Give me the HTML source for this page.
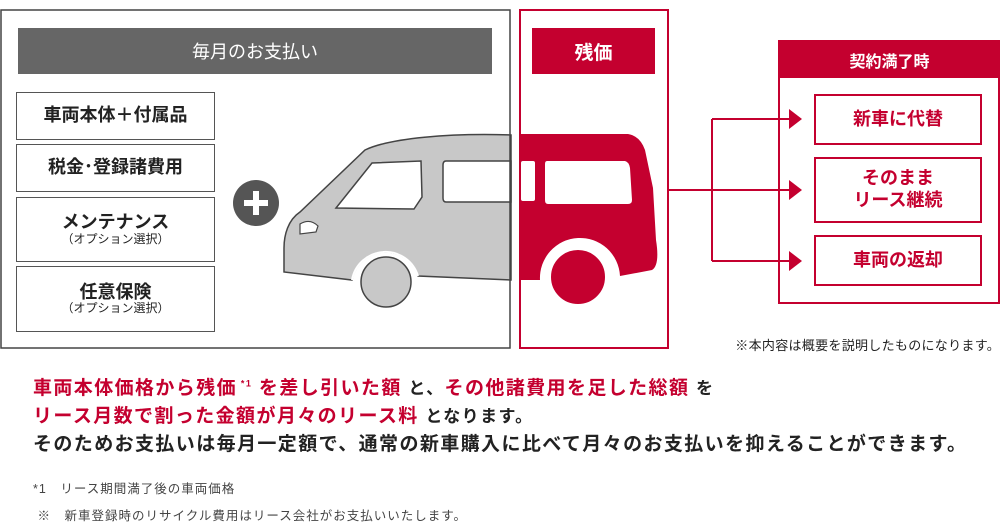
<!DOCTYPE html>
<html><head><meta charset="utf-8"><style>
body{margin:0;width:1000px;height:530px;background:#fff;font-family:"Liberation Sans","Noto Sans CJK JP",sans-serif;position:relative;overflow:hidden}
.a{position:absolute;box-sizing:border-box}
.c{display:flex;align-items:center;justify-content:center;text-align:center;flex-direction:column}
.item{border:1.5px solid #555;font-weight:bold;font-size:18px;color:#222;line-height:1.1;left:16px;width:199px}
.item small{font-size:12px;font-weight:normal}
.ritem{border:2px solid #c4002f;color:#c4002f;font-weight:bold;font-size:18px;left:814px;width:168px;line-height:1.2}
.t{position:absolute;left:33px;font-size:19px;font-weight:bold;color:#222;white-space:nowrap;letter-spacing:1.4px}
.r{color:#c4002f}
.s{font-size:17px}
.f{position:absolute;left:33px;font-size:12.5px;color:#444;white-space:nowrap;letter-spacing:1px}
</style></head><body>
<svg class="a" style="left:0;top:0" width="1000" height="360">
<path d="M511 135 C450 133 390 138 365 150 L300 212 C288 220 284 235 284 248 L284 272 L352 280 A34 34 0 0 1 418 276 L511 280 Z" fill="#c8c8c8" stroke="#444" stroke-width="1.5"/>
<path d="M352 280 A34 34 0 0 1 418 276" fill="none" stroke="#fff" stroke-width="2"/>
<circle cx="386" cy="282" r="25" fill="#c8c8c8" stroke="#444" stroke-width="1.5"/>
<path d="M336 208 L372 163 L421 161 L422 197 L414 209 Z" fill="#fff" stroke="#444" stroke-width="1.5"/>
<path d="M446 161 L511 161 L511 202 L446 202 Q443 202 443 198 L443 165 Q443 161 446 161 Z" fill="#fff" stroke="#444" stroke-width="1.5"/>
<path d="M300 224 Q310 218 318 226 L316 232 L300 234 Z" fill="#fff" stroke="#444" stroke-width="1.2"/>
<rect x="1" y="10" width="509" height="338" fill="none" stroke="#444" stroke-width="1.5"/>
<rect x="18" y="28" width="474" height="46" fill="#666"/>
<circle cx="256" cy="203" r="23" fill="#555"/>
<rect x="244" y="200" width="24" height="6" fill="#fff"/><rect x="253" y="191" width="6" height="24" fill="#fff"/>
<path d="M521 134 L628 134 Q640 136 645 150 L653 188 L656 240 Q660 265 652 270 L620 276 A40 40 0 0 0 540 280 L521 280 Z" fill="#c4002f"/>
<rect x="521" y="161" width="14" height="40" rx="2" fill="#fff"/>
<path d="M547 161 L625 161 Q629 162 630 168 L632 200 Q632 204 628 204 L548 204 Q545 204 545 200 L545 164 Q545 161 547 161 Z" fill="#fff"/>
<circle cx="578" cy="277" r="28" fill="#c4002f" stroke="#fff" stroke-width="2"/>
<rect x="520" y="10" width="148" height="338" fill="none" stroke="#c4002f" stroke-width="2"/>
<rect x="532" y="28" width="123" height="46" fill="#c4002f"/>
<rect x="779" y="41" width="220" height="262" fill="none" stroke="#c4002f" stroke-width="2"/>
<rect x="779" y="41" width="221" height="37" fill="#c4002f"/>
<g stroke="#c4002f" stroke-width="2" fill="none">
<path d="M668 190 L790 190 M712 119 L712 261 M712 119 L790 119 M712 261 L790 261"/>
</g>
<g fill="#c4002f">
<path d="M789 109 L802 119 L789 129 Z"/><path d="M789 180 L802 190 L789 200 Z"/><path d="M789 251 L802 261 L789 271 Z"/>
</g>
</svg>
<div class="a c" style="left:18px;top:28px;width:474px;height:46px;color:#fff;font-size:18px">毎月のお支払い</div>
<div class="a c item" style="top:92px;height:48px">車両本体＋付属品</div>
<div class="a c item" style="top:144px;height:48px">税金･登録諸費用</div>
<div class="a c item" style="top:197px;height:65px">メンテナンス<small>（オプション選択）</small></div>
<div class="a c item" style="top:266px;height:66px">任意保険<small>（オプション選択）</small></div>
<div class="a c" style="left:532px;top:28px;width:123px;height:46px;color:#fff;font-size:19px;font-weight:bold">残価</div>
<div class="a c" style="left:779px;top:41px;width:221px;height:37px;color:#fff;font-size:16px;font-weight:bold">契約満了時</div>
<div class="a c ritem" style="top:94px;height:51px">新車に代替</div>
<div class="a c ritem" style="top:157px;height:66px">そのまま<br>リース継続</div>
<div class="a c ritem" style="top:235px;height:51px">車両の返却</div>
<div class="a" style="right:0;top:335px;font-size:13px;color:#222;white-space:nowrap;letter-spacing:0.3px">※本内容は概要を説明したものになります。</div>
<div class="t" style="top:373px"><span class="r">車両本体価格から残価</span><sup style="font-size:9px" class="r"> *1</sup> <span class="r">を差し引いた額</span> <span class="s">と、</span><span class="r">その他諸費用を足した総額</span> <span class="s">を</span></div>
<div class="t" style="top:401px"><span class="r">リース月数で割った金額が月々のリース料</span> <span class="s">となります。</span></div>
<div class="t" style="top:429px">そのためお支払いは毎月一定額で、通常の新車購入に比べて月々のお支払いを抑えることができます。</div>
<div class="f" style="top:478px">*1　リース期間満了後の車両価格</div>
<div class="f" style="top:505px">&nbsp;※　新車登録時のリサイクル費用はリース会社がお支払いいたします。</div>
</body></html>
